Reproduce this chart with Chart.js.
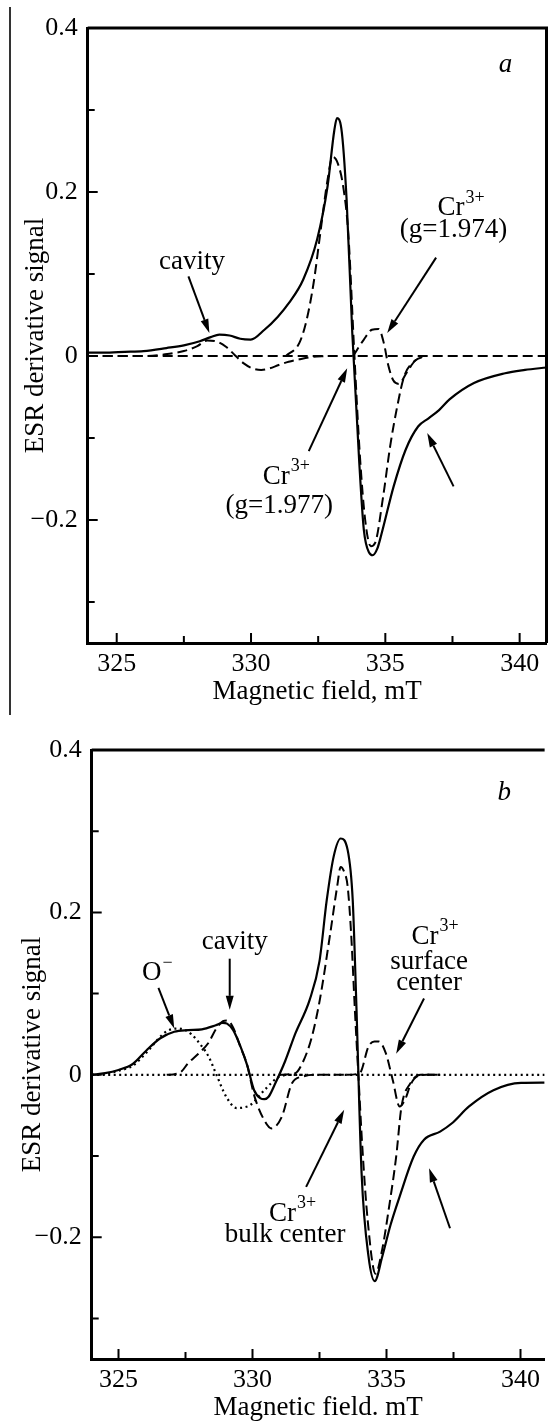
<!DOCTYPE html>
<html>
<head>
<meta charset="utf-8">
<script src="https://cdn.jsdelivr.net/npm/chart.js@4.4.1/dist/chart.umd.min.js"></script>
<style>
  html, body { margin: 0; padding: 0; background: #fff; }
  body { width: 548px; height: 1423px; position: relative; overflow: hidden; }
  canvas { position: absolute; left: 0; }
  #chartA { top: 0; }
  #chartB { top: 715px; }
  #edge { position: absolute; left: 9px; top: 7px; width: 1.5px; height: 708px; background: #333; }
</style>
</head>
<body>
<div id="edge"></div>
<canvas id="chartA" width="548" height="715"></canvas>
<canvas id="chartB" width="548" height="708"></canvas>
<script>
const SERIF = "'Liberation Serif', 'Times New Roman', serif";

// tick values, shared by both panels
const yMajor = [0.4, 0.2, 0, -0.2];
const yMinor = [0.3, 0.1, -0.1, -0.3];
const xMajor = [325, 330, 335, 340];
const xMinor = [327.5, 332.5, 337.5];

// ---- panel a ----
const aField = [323.92, 324.5, 325.3, 326.0, 326.85, 327.5, 328.09, 328.5, 328.82, 329.2, 329.6, 329.99, 330.5, 331.0, 331.42, 331.94, 332.46, 332.85, 333.1, 333.2, 333.36, 333.56, 333.77, 334.03, 334.2, 334.4, 334.53, 334.7, 334.85, 335.31, 335.76, 336.22, 336.61, 337.0, 337.39, 338.3, 339.46, 340.2, 341.0];
const aTotal = [0.004, 0.004, 0.005, 0.006, 0.0097, 0.013, 0.018, 0.023, 0.026, 0.025, 0.021, 0.020, 0.032, 0.048, 0.065, 0.093, 0.142, 0.207, 0.275, 0.290, 0.278, 0.19, 0.028, -0.13, -0.212, -0.24, -0.243, -0.235, -0.218, -0.159, -0.114, -0.086, -0.076, -0.066, -0.053, -0.033, -0.021, -0.017, -0.014];
const aCavField = [323.92, 326.0, 326.8, 327.5, 328.0, 328.37, 328.7, 329.08, 329.4, 329.73, 330.05, 330.38, 330.7, 331.03, 331.4, 331.8, 332.3, 332.8];
const aCav = [0, 0, 0.002, 0.006, 0.012, 0.019, 0.018, 0.011, 0.001, -0.009, -0.015, -0.017, -0.015, -0.011, -0.007, -0.004, -0.001, 0];
const aBulkField = [331.3, 331.8, 332.07, 332.33, 332.58, 332.85, 333.04, 333.23, 333.43, 333.62, 333.85, 334.05, 334.25, 334.46, 334.62, 334.92, 335.18, 335.44, 335.7, 336.09, 336.5];
const aBulk = [0, 0.016, 0.044, 0.089, 0.15, 0.215, 0.243, 0.235, 0.207, 0.15, 0, -0.12, -0.2, -0.232, -0.228, -0.171, -0.11, -0.062, -0.025, -0.006, 0];
const aSurfField = [333.8, 334.2, 334.5, 334.75, 334.95, 335.1, 335.3, 335.5, 335.8, 336.1, 336.4];
const aSurf = [0, 0.02, 0.032, 0.033, 0.015, -0.01, -0.03, -0.034, -0.02, -0.006, 0];
const aZeroField = [323.92, 341.0];
const aZero = [0, 0];

// ---- panel b ----
const bField = [324.0, 324.5, 325.0, 325.52, 326.04, 326.56, 327.08, 327.6, 328.11, 328.63, 328.89, 329.05, 329.28, 329.55, 329.8, 330.06, 330.3, 330.44, 330.6, 330.83, 331.22, 331.6, 332.13, 332.5, 332.77, 333.03, 333.29, 333.55, 333.74, 333.87, 334.07, 334.33, 334.56, 334.84, 335.15, 335.49, 336.01, 336.4, 337.0, 337.43, 338.08, 338.99, 340.02, 340.9];
const bTotal = [0.0, 0.002, 0.006, 0.013, 0.030, 0.045, 0.053, 0.055, 0.056, 0.061, 0.064, 0.063, 0.055, 0.035, 0.012, -0.019, -0.029, -0.030, -0.027, -0.012, 0.017, 0.051, 0.092, 0.14, 0.215, 0.269, 0.291, 0.277, 0.215, 0.092, -0.121, -0.224, -0.254, -0.224, -0.185, -0.150, -0.101, -0.080, -0.070, -0.060, -0.039, -0.019, -0.010, -0.0097];
const bCavField = [326.8, 327.13, 327.35, 327.59, 327.98, 328.37, 328.63, 328.9, 329.05, 329.28, 329.54, 329.8, 330.06, 330.44, 330.7, 331.09, 331.48, 331.9, 332.3, 333.5];
const bCav = [0, 0.001, 0.004, 0.014, 0.026, 0.040, 0.056, 0.066, 0.067, 0.058, 0.035, 0.012, -0.025, -0.056, -0.066, -0.052, -0.01, -0.002, 0, 0];
const bBulkField = [331.0, 331.6, 331.87, 332.2, 332.51, 332.9, 333.16, 333.29, 333.42, 333.55, 333.68, 333.82, 333.95, 334.1, 334.3, 334.59, 334.84, 335.1, 335.36, 335.56, 335.88, 336.27, 337.0];
const bBulk = [0, 0.002, 0.015, 0.045, 0.092, 0.174, 0.232, 0.256, 0.25, 0.232, 0.174, 0.08, 0, -0.09, -0.18, -0.245, -0.215, -0.162, -0.101, -0.039, -0.011, 0, 0];
const bSurfField = [333.5, 334.0, 334.33, 334.55, 334.71, 334.97, 335.23, 335.49, 335.7, 335.9, 336.14, 336.5, 337.0];
const bSurf = [0, 0.002, 0.035, 0.041, 0.041, 0.027, -0.006, -0.039, -0.03, -0.012, -0.002, 0, 0];
const bOxField = [324.0, 324.5, 325.0, 325.52, 326.17, 326.5, 326.82, 327.21, 327.5, 327.72, 328.11, 328.37, 328.63, 329.02, 329.41, 329.7, 329.93, 330.44, 330.96, 331.4, 332.0];
const bOx = [0, 0.001, 0.005, 0.011, 0.032, 0.045, 0.054, 0.057, 0.055, 0.05, 0.035, 0.022, 0.002, -0.027, -0.041, -0.04, -0.037, -0.019, -0.003, 0, 0];
const bZeroField = [324.0, 340.9];
const bZero = [0, 0];

// labels and arrows, placed in data units (mT, signal)
const aNotes = [
  {text: 'cavity', x: 327.8, y: 0.115},
  {text: 'Cr', sup: '3+', x: 337.8, y: 0.18},
  {text: '(g=1.974)', x: 337.54, y: 0.154},
  {text: 'Cr', sup: '3+', x: 331.3, y: -0.147},
  {text: '(g=1.977)', x: 331.05, y: -0.183},
  {text: 'a', italic: true, x: 339.47, y: 0.355}
];
const aArrows = [
  [327.67, 0.097, 328.45, 0.028],
  [336.89, 0.12, 335.07, 0.028],
  [332.15, -0.116, 333.58, -0.015],
  [337.54, -0.159, 336.56, -0.094]
];
const bNotes = [
  {text: 'O', sup: '\u2212', x: 326.43, y: 0.125},
  {text: 'cavity', x: 329.34, y: 0.164},
  {text: 'Cr', sup: '3+', x: 336.79, y: 0.17},
  {text: 'surface', x: 336.59, y: 0.139},
  {text: 'center', x: 336.59, y: 0.113},
  {text: 'Cr', sup: '3+', x: 331.48, y: -0.171},
  {text: 'bulk center', x: 331.22, y: -0.197},
  {text: 'b', italic: true, x: 339.39, y: 0.347}
];
const bArrows = [
  [326.49, 0.107, 327.08, 0.057],
  [329.15, 0.143, 329.15, 0.08],
  [336.4, 0.094, 335.36, 0.026],
  [332.0, -0.138, 333.42, -0.043],
  [337.37, -0.189, 336.59, -0.115]
];

const pts = (xs, ys) => xs.map((x, i) => ({x: x, y: ys[i]}));

const SOLID = {borderWidth: 2.2};
const DASH = {borderWidth: 2, borderDash: [10, 5]};
const DOT = {borderWidth: 2.2, borderDash: [2, 3.5]};

function line(xs, ys, style) {
  return Object.assign({
    data: pts(xs, ys),
    borderColor: '#000',
    pointRadius: 0,
    fill: false,
    cubicInterpolationMode: 'monotone'
  }, style);
}

function arrow(ctx, x1, y1, x2, y2) {
  const a = Math.atan2(y2 - y1, x2 - x1);
  const len = 14, half = 4;
  const bx = x2 - len * Math.cos(a), by = y2 - len * Math.sin(a);
  ctx.beginPath();
  ctx.moveTo(x1, y1);
  ctx.lineTo(bx, by);
  ctx.stroke();
  ctx.beginPath();
  ctx.moveTo(x2, y2);
  ctx.lineTo(bx + half * Math.sin(a), by - half * Math.cos(a));
  ctx.lineTo(bx - half * Math.sin(a), by + half * Math.cos(a));
  ctx.closePath();
  ctx.fill();
}

// frame, inward ticks, labels, arrows
const decor = {
  id: 'decor',
  afterDraw(chart, args, o) {
    const ctx = chart.ctx, sx = chart.scales.x, sy = chart.scales.y, ca = chart.chartArea;
    ctx.save();
    ctx.strokeStyle = '#000';
    ctx.fillStyle = '#000';
    ctx.lineCap = 'butt';

    ctx.lineWidth = 3;
    ctx.beginPath();
    ctx.moveTo(ca.left, ca.top);
    ctx.lineTo(ca.right, ca.top);
    if (o.rightEdge) ctx.lineTo(ca.right, ca.bottom);
    ctx.stroke();

    ctx.lineWidth = 2;
    ctx.beginPath();
    yMajor.concat(yMinor).forEach(v => {
      const p = sy.getPixelForValue(v);
      ctx.moveTo(ca.left, p);
      ctx.lineTo(ca.left + (yMajor.includes(v) ? 10 : 7), p);
    });
    xMajor.concat(xMinor).forEach(v => {
      const p = sx.getPixelForValue(v);
      ctx.moveTo(p, ca.bottom);
      ctx.lineTo(p, ca.bottom - (xMajor.includes(v) ? 10 : 7));
    });
    ctx.stroke();

    ctx.lineWidth = 2;
    o.arrows.forEach(r => arrow(ctx, sx.getPixelForValue(r[0]), sy.getPixelForValue(r[1]),
      sx.getPixelForValue(r[2]), sy.getPixelForValue(r[3])));

    ctx.textBaseline = 'middle';
    o.notes.forEach(n => {
      const px = sx.getPixelForValue(n.x), py = sy.getPixelForValue(n.y);
      const main = (n.italic ? 'italic ' : '') + '27px ' + SERIF;
      const small = '18px ' + SERIF;
      ctx.font = main;
      const w1 = ctx.measureText(n.text).width;
      ctx.font = small;
      const w2 = n.sup ? ctx.measureText(n.sup).width : 0;
      const x0 = px - (w1 + w2) / 2;
      ctx.textAlign = 'left';
      ctx.font = main;
      ctx.fillText(n.text, x0, py);
      if (n.sup) {
        ctx.font = small;
        ctx.fillText(n.sup, x0 + w1 + 1, py - 10);
      }
    });
    ctx.restore();
  }
};

function yLabel(v) {
  if (v === 0) return '0';
  return v < 0 ? '\u2212' + Math.abs(v) : String(v);
}

function makePanel(id, cfg) {
  return new Chart(document.getElementById(id), {
    type: 'line',
    data: {datasets: cfg.datasets},
    plugins: [decor],
    options: {
      responsive: false,
      animation: false,
      events: [],
      layout: {padding: cfg.padding},
      plugins: {
        legend: {display: false},
        tooltip: {enabled: false},
        decor: {notes: cfg.notes, arrows: cfg.arrows, rightEdge: cfg.rightEdge}
      },
      scales: {
        x: {
          type: 'linear',
          min: cfg.xMin,
          max: cfg.xMax,
          afterBuildTicks: s => { s.ticks = xMajor.map(v => ({value: v})); },
          afterFit: s => { s.height = cfg.xAxisH; },
          grid: {display: false, drawTicks: false},
          border: {display: true, width: 3, color: '#000'},
          ticks: {autoSkip: false, maxRotation: 0, padding: 8, color: '#000',
                  font: {family: SERIF, size: 26, lineHeight: 1},
                  callback: v => String(v)},
          title: {display: true, text: cfg.xTitle, color: '#000',
                  font: {family: SERIF, size: 27, lineHeight: 1},
                  padding: {top: 0, bottom: cfg.xTitlePad}}
        },
        y: {
          type: 'linear',
          min: -0.35,
          max: 0.4,
          afterBuildTicks: s => { s.ticks = yMajor.map(v => ({value: v})); },
          afterFit: s => { s.width = cfg.yAxisW; },
          grid: {display: false, drawTicks: false},
          border: {display: true, width: 3, color: '#000'},
          ticks: {padding: 10, color: '#000',
                  font: {family: SERIF, size: 26, lineHeight: 1},
                  callback: v => yLabel(v)},
          title: {display: true, text: 'ESR derivative signal', color: '#000',
                  font: {family: SERIF, size: 27, lineHeight: 1},
                  padding: {top: cfg.yTitlePad, bottom: 0}}
        }
      }
    }
  });
}

makePanel('chartA', {
  datasets: [
    line(aZeroField, aZero, DASH),
    line(aCavField, aCav, DASH),
    line(aBulkField, aBulk, DASH),
    line(aSurfField, aSurf, DASH),
    line(aField, aTotal, SOLID)
  ],
  xMin: 323.92, xMax: 341.0,
  padding: {left: 0, right: 1.5, top: 28, bottom: 0},
  xAxisH: 72, yAxisW: 87.7,
  xTitle: 'Magnetic field, mT', xTitlePad: 9.5, yTitlePad: 22,
  notes: aNotes, arrows: aArrows, rightEdge: true
});

makePanel('chartB', {
  datasets: [
    line(bZeroField, bZero, DOT),
    line(bOxField, bOx, DOT),
    line(bCavField, bCav, DASH),
    line(bBulkField, bBulk, DASH),
    line(bSurfField, bSurf, DASH),
    line(bField, bTotal, SOLID)
  ],
  xMin: 324.0, xMax: 340.9,
  padding: {left: 0, right: 0, top: 35, bottom: 0},
  xAxisH: 64, yAxisW: 91.7,
  xTitle: 'Magnetic field. mT', xTitlePad: 1.5, yTitlePad: 19,
  notes: bNotes, arrows: bArrows, rightEdge: false
});
</script>
</body>
</html>
